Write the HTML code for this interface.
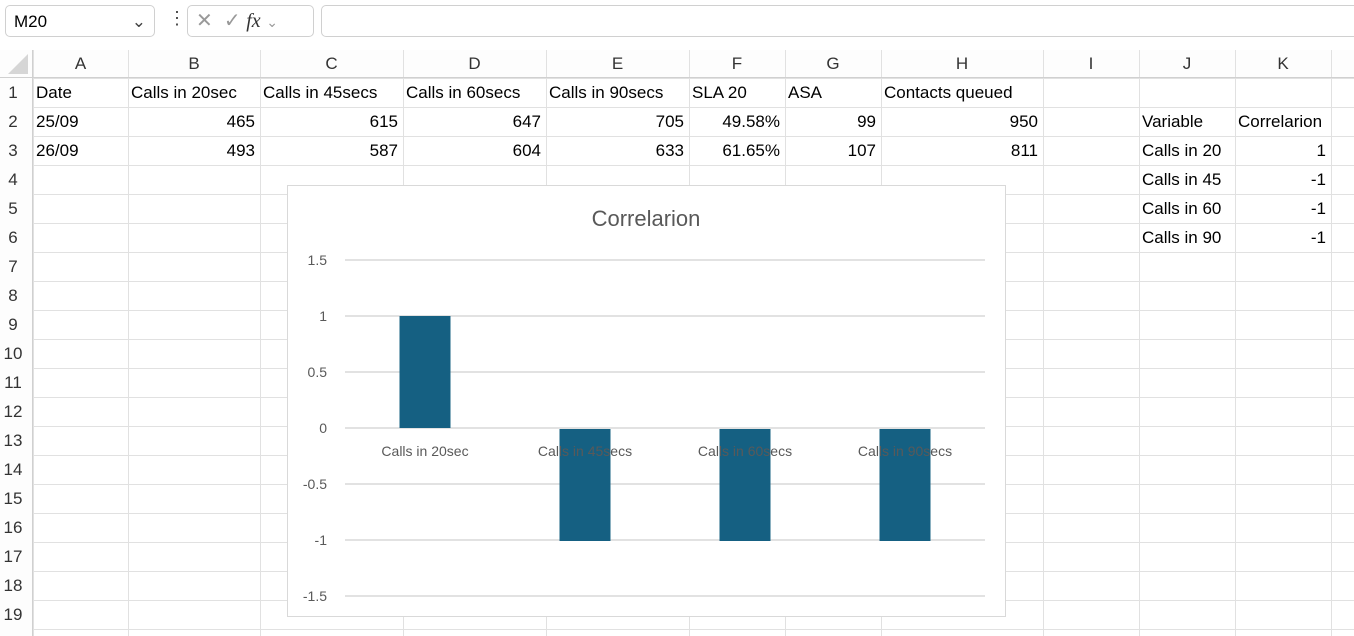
<!DOCTYPE html>
<html><head><meta charset="utf-8"><style>
body{margin:0;width:1354px;height:636px;overflow:hidden;background:#fff;font-family:"Liberation Sans",sans-serif;position:relative}
.abs{position:absolute}
.cell{position:absolute;font-size:17px;color:#000;white-space:nowrap;line-height:29px}
.r{text-align:right}
.hdr{position:absolute;font-size:17px;color:#333;text-align:center;line-height:28px}
</style></head><body>
<div class="abs" style="left:5px;top:5px;width:150px;height:32px;border:1px solid #d0d0d0;border-radius:5px;font-size:17px;line-height:32px;padding-left:8px;box-sizing:border-box">M20<span style="position:absolute;right:8px;color:#444">&#8964;</span></div>
<div class="abs" style="left:168px;top:8px;font-size:18px;color:#444">&#8942;</div>
<div class="abs" style="left:187px;top:5px;width:127px;height:32px;border:1px solid #d0d0d0;border-radius:5px;box-sizing:border-box;font-size:20px;color:#999;line-height:30px;padding-left:8px">✕ &nbsp;✓ <i style="color:#333;font-family:'Liberation Serif',serif">fx</i> <span style="font-size:14px">&#8964;</span></div>
<div class="abs" style="left:321px;top:5px;width:1040px;height:32px;border:1px solid #d0d0d0;border-radius:5px;box-sizing:border-box"></div>
<svg class="abs" style="left:0;top:0" width="1354" height="636" id="grid"></svg>
<div id="cells"></div>
<svg class="abs" style="left:0;top:0" width="1354" height="636" id="chart"></svg>
<script>
const colEdges=[33,128,260,403,546,689,785,881,1043,1139,1235,1331,1400];
const colNames=["A","B","C","D","E","F","G","H","I","J","K",""];
const NS="http://www.w3.org/2000/svg";
function mk(p,t,a){const e=document.createElementNS(NS,t);for(const k in a)e.setAttribute(k,a[k]);p.appendChild(e);return e;}
const g=document.getElementById('grid');
mk(g,'rect',{x:0,y:50,width:1354,height:28,fill:'#fdfdfd'});
mk(g,'rect',{x:0,y:78,width:33,height:560,fill:'#fdfdfd'});
mk(g,'polygon',{points:'28,54 28,74 8,74',fill:'#d6d6d6'});
for(const x of colEdges){mk(g,'line',{x1:x+.5,y1:50,x2:x+.5,y2:636,stroke:'#e1e1e1'});}
for(let r=0;r<=20;r++){const y=78+r*29;mk(g,'line',{x1:33,y1:y+.5,x2:1354,y2:y+.5,stroke:'#e1e1e1'});}
mk(g,'line',{x1:0,y1:77.5,x2:1354,y2:77.5,stroke:'#d0d0d0'});
mk(g,'line',{x1:32.5,y1:50,x2:32.5,y2:636,stroke:'#d0d0d0'});
const cells=document.getElementById('cells');
function cell(txt,c,r,right,cls){const d=document.createElement('div');d.className=cls||'cell';if(right)d.classList.add('r');
const x0=colEdges[c],x1=colEdges[c+1];d.style.left=(x0+3)+'px';d.style.width=(x1-x0-8)+'px';d.style.top=(r<0?50:78+(r-1)*29)+'px';d.textContent=txt;


cells.appendChild(d);}
colNames.forEach((n,i)=>{const d=document.createElement('div');d.className='hdr';d.style.left=colEdges[i]+'px';d.style.width=(colEdges[i+1]-colEdges[i])+'px';d.style.top='50px';d.textContent=n;


cells.appendChild(d);});
for(let r=1;r<=19;r++){const d=document.createElement('div');d.className='hdr';d.style.left='0px';d.style.width='26px';d.style.top=(78+(r-1)*29+1)+'px';d.textContent=r;


cells.appendChild(d);}
const rows=[["Date","Calls in 20sec","Calls in 45secs","Calls in 60secs","Calls in 90secs","SLA 20","ASA","Contacts queued"],
["25/09","465","615","647","705","49.58%","99","950"],["26/09","493","587","604","633","61.65%","107","811"]];
rows.forEach((row,ri)=>row.forEach((v,ci)=>cell(v,ci,ri+1,ri>0&&ci>0)));
const tbl=[["Variable","Correlarion"],["Calls in 20","1"],["Calls in 45","-1"],["Calls in 60","-1"],["Calls in 90","-1"]];
tbl.forEach((row,i)=>{cell(row[0],9,i+2,false);cell(row[1],10,i+2,i>0);});

const categories=["Calls in 20sec","Calls in 45secs","Calls in 60secs","Calls in 90secs"];
const values=[1,-1,-1,-1];
const ticks=[1.5,1,0.5,0,-0.5,-1,-1.5];
const c=document.getElementById('chart');
const L=345,R=985,yScale=v=>428-v*112;
const xBand=i=>L+(R-L)/categories.length*(i+0.5);
let e=mk(c,'rect',{x:287.5,y:185.5,width:718,height:431,fill:'#fff',stroke:'#d9d9d9'});

const t=mk(c,'text',{x:646,y:226,'text-anchor':'middle','font-size':22,fill:'#595959','font-family':'Liberation Sans, sans-serif'});t.textContent='Correlarion';

ticks.forEach(v=>{const y=yScale(v);
const l=mk(c,'line',{x1:L,x2:R,y1:y,y2:y,stroke:'#d9d9d9','stroke-width':1.5});

const tx=mk(c,'text',{x:327,y:y+5,'text-anchor':'end','font-size':14,fill:'#595959','font-family':'Liberation Sans, sans-serif'});tx.textContent=v;
});
values.forEach((v,i)=>{const cx=xBand(i),y0=yScale(0),y1=yScale(v);
const b=mk(c,'rect',{x:cx-25.5,y:Math.min(y0,y1)+(v<0?1:0),width:51,height:Math.abs(y1-y0),fill:'#156082'});
});
categories.forEach((n,i)=>{const tx=mk(c,'text',{x:xBand(i),y:456,'text-anchor':'middle','font-size':14,fill:'#595959','font-family':'Liberation Sans, sans-serif'});tx.textContent=n;
});
</script>
</body></html>
